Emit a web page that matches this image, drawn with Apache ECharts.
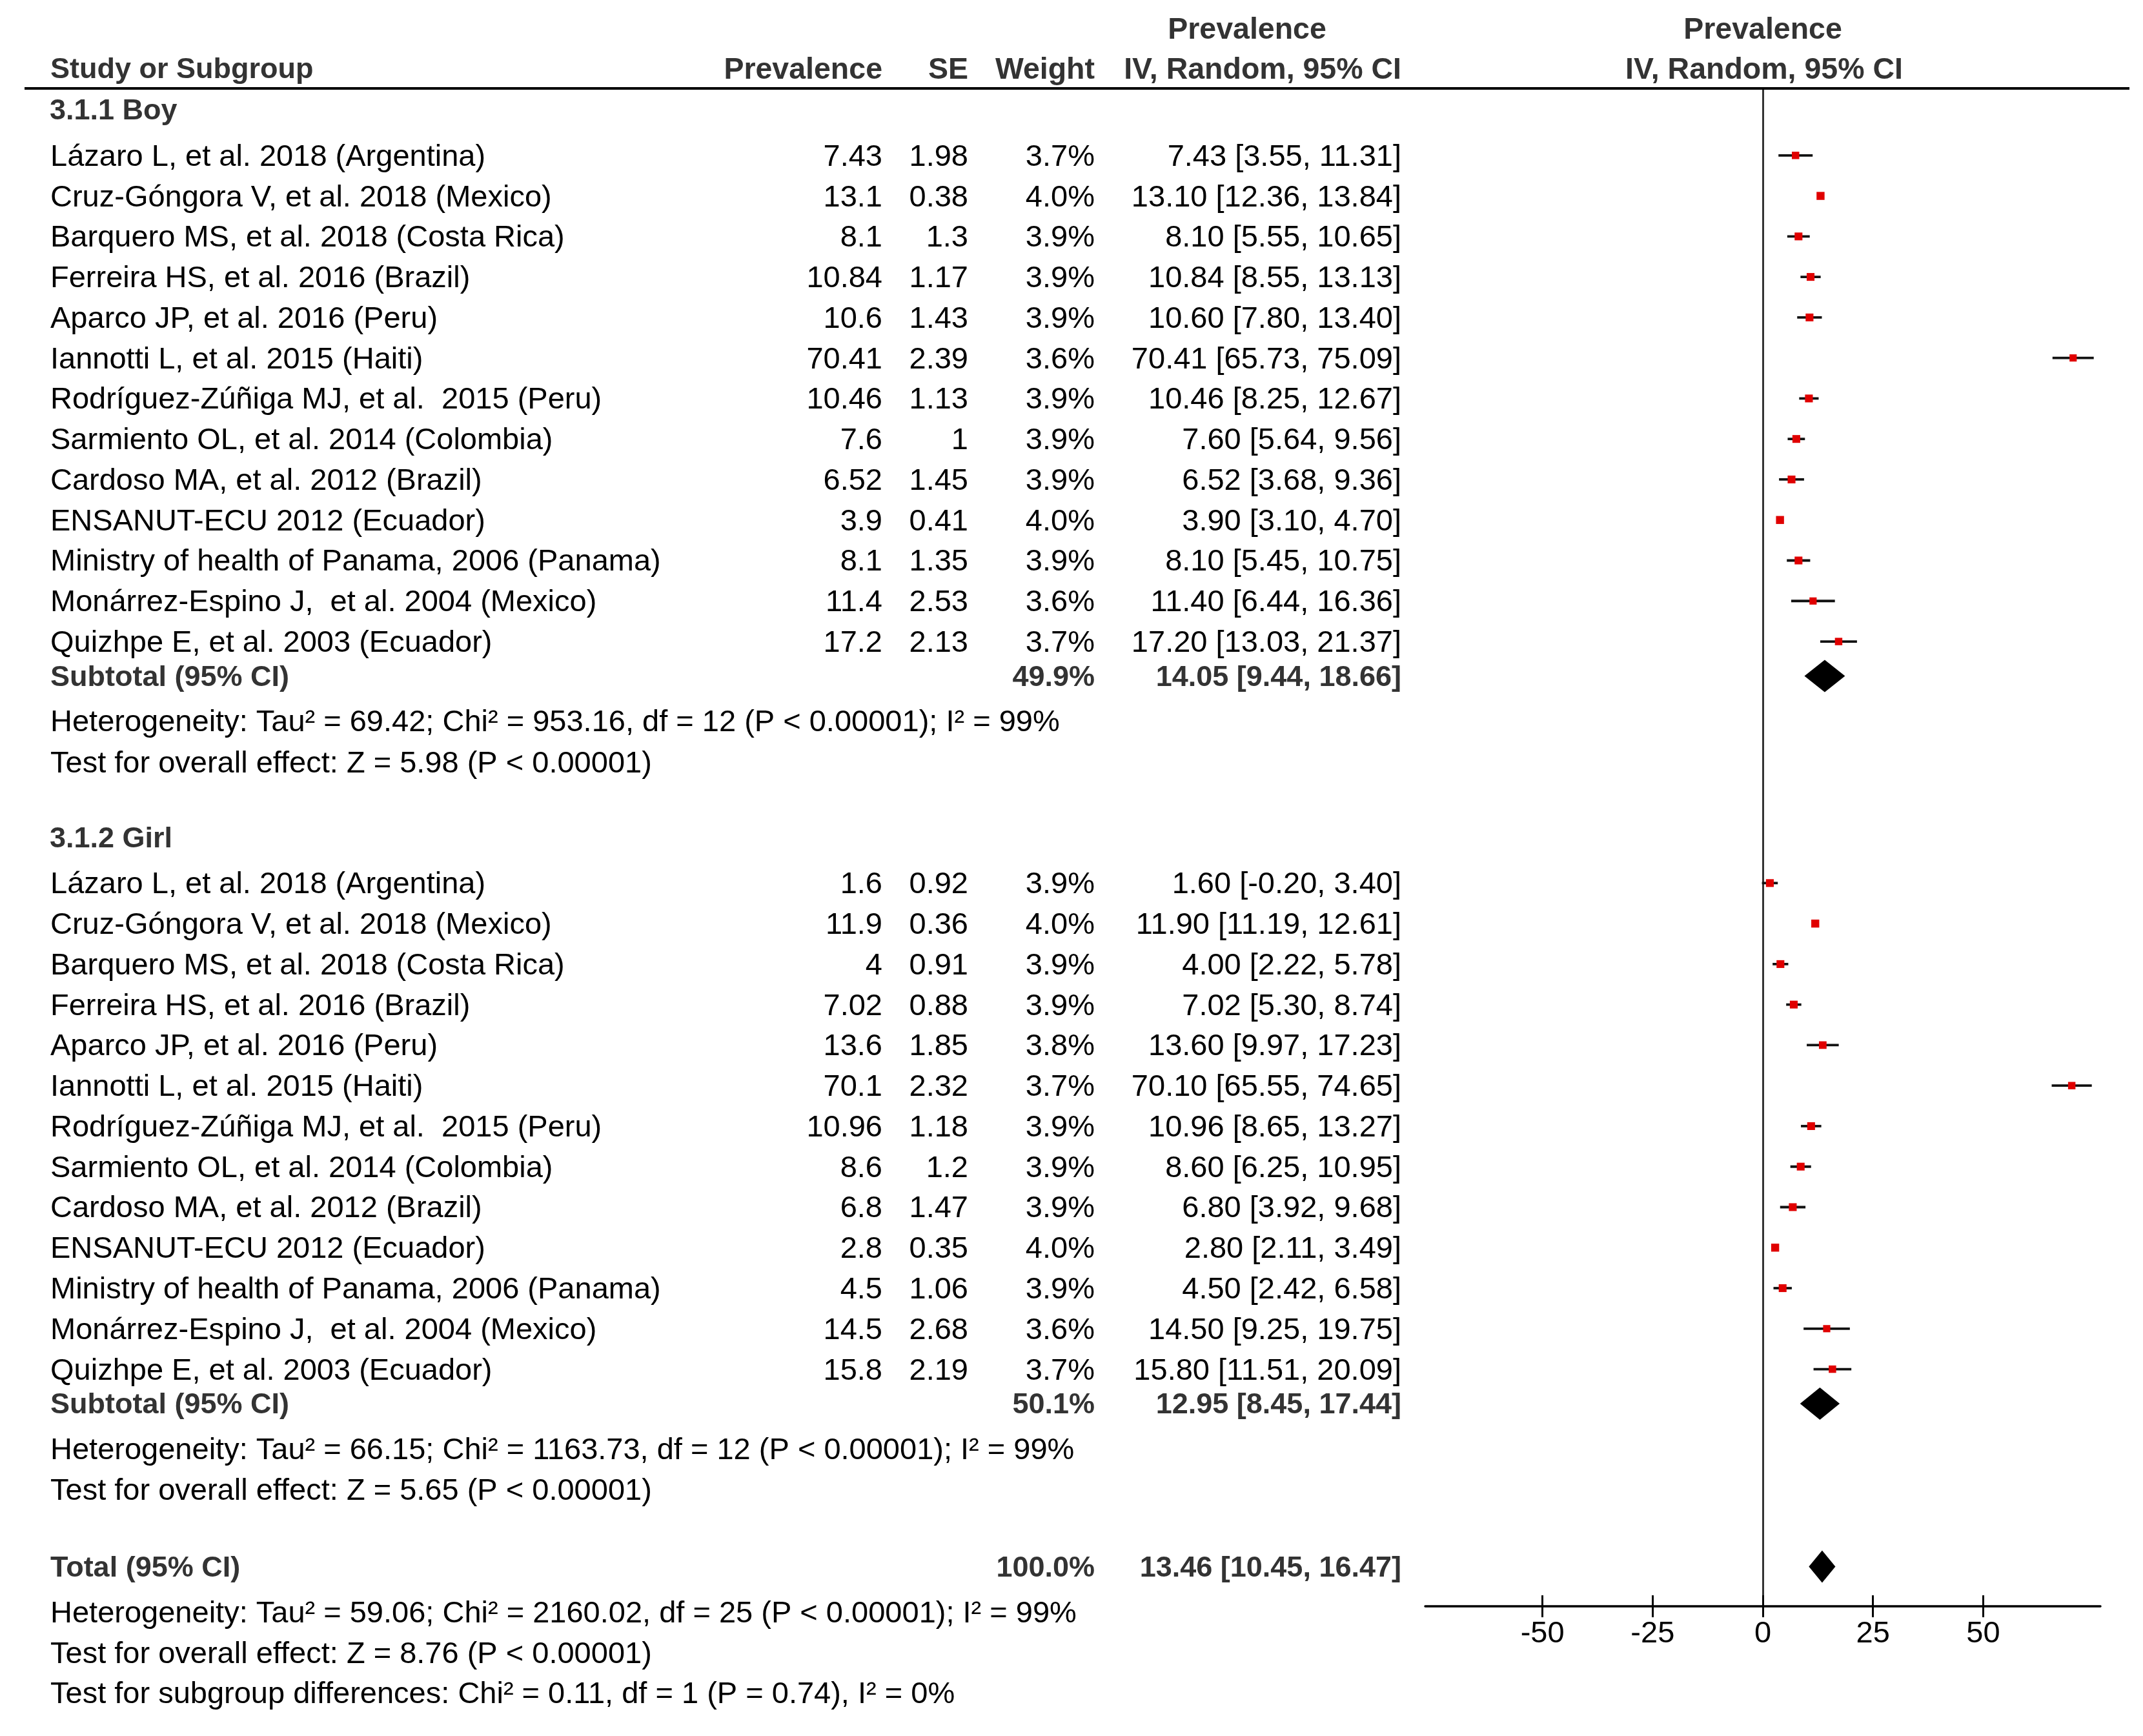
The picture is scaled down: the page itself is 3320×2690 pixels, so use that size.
<!DOCTYPE html>
<html><head><meta charset="utf-8">
<script src="https://cdn.jsdelivr.net/npm/echarts@6/dist/echarts.min.js"></script>
<style>html,body{margin:0;padding:0;background:#fff}#c{width:3320px;height:2690px}</style>
</head><body><div id="c"></div>
<script>
// ---------------- data ----------------
const studyNames = [
  'Lázaro L, et al. 2018 (Argentina)',
  'Cruz-Góngora V, et al. 2018 (Mexico)',
  'Barquero MS, et al. 2018 (Costa Rica)',
  'Ferreira HS, et al. 2016 (Brazil)',
  'Aparco JP, et al. 2016 (Peru)',
  'Iannotti L, et al. 2015 (Haiti)',
  'Rodríguez-Zúñiga MJ, et al.  2015 (Peru)',
  'Sarmiento OL, et al. 2014 (Colombia)',
  'Cardoso MA, et al. 2012 (Brazil)',
  'ENSANUT-ECU 2012 (Ecuador)',
  'Ministry of health of Panama, 2006 (Panama)',
  'Monárrez-Espino J,  et al. 2004 (Mexico)',
  'Quizhpe E, et al. 2003 (Ecuador)'
];
const boyPrev   = [7.43, 13.1, 8.1, 10.84, 10.6, 70.41, 10.46, 7.6, 6.52, 3.9, 8.1, 11.4, 17.2];
const boySE     = [1.98, 0.38, 1.3, 1.17, 1.43, 2.39, 1.13, 1, 1.45, 0.41, 1.35, 2.53, 2.13];
const boyWeight = [3.7, 4.0, 3.9, 3.9, 3.9, 3.6, 3.9, 3.9, 3.9, 4.0, 3.9, 3.6, 3.7];
const boyLower  = [3.55, 12.36, 5.55, 8.55, 7.80, 65.73, 8.25, 5.64, 3.68, 3.10, 5.45, 6.44, 13.03];
const boyUpper  = [11.31, 13.84, 10.65, 13.13, 13.40, 75.09, 12.67, 9.56, 9.36, 4.70, 10.75, 16.36, 21.37];

const girlPrev   = [1.6, 11.9, 4, 7.02, 13.6, 70.1, 10.96, 8.6, 6.8, 2.8, 4.5, 14.5, 15.8];
const girlSE     = [0.92, 0.36, 0.91, 0.88, 1.85, 2.32, 1.18, 1.2, 1.47, 0.35, 1.06, 2.68, 2.19];
const girlWeight = [3.9, 4.0, 3.9, 3.9, 3.8, 3.7, 3.9, 3.9, 3.9, 4.0, 3.9, 3.6, 3.7];
const girlLower  = [-0.20, 11.19, 2.22, 5.30, 9.97, 65.55, 8.65, 6.25, 3.92, 2.11, 2.42, 9.25, 11.51];
const girlUpper  = [3.40, 12.61, 5.78, 8.74, 17.23, 74.65, 13.27, 10.95, 9.68, 3.49, 6.58, 19.75, 20.09];

const pooledLabels = ['Subtotal (95% CI)', 'Subtotal (95% CI)', 'Total (95% CI)'];
const pooledWeight = [49.9, 50.1, 100.0];
const pooledEst    = [14.05, 12.95, 13.46];
const pooledLower  = [9.44, 8.45, 10.45];
const pooledUpper  = [18.66, 17.44, 16.47];

const groupTitles = ['3.1.1 Boy', '3.1.2 Girl'];
const groupNotes = [
  ['Heterogeneity: Tau² = 69.42; Chi² = 953.16, df = 12 (P < 0.00001); I² = 99%',
   'Test for overall effect: Z = 5.98 (P < 0.00001)'],
  ['Heterogeneity: Tau² = 66.15; Chi² = 1163.73, df = 12 (P < 0.00001); I² = 99%',
   'Test for overall effect: Z = 5.65 (P < 0.00001)']
];
const totalNotes = [
  'Heterogeneity: Tau² = 59.06; Chi² = 2160.02, df = 25 (P < 0.00001); I² = 99%',
  'Test for overall effect: Z = 8.76 (P < 0.00001)',
  'Test for subgroup differences: Chi² = 0.11, df = 1 (P = 0.74), I² = 0%'
];
const xTicks = [-50, -25, 0, 25, 50];

// ---------------- layout ----------------
const W = 3320, H = 2690;
const GRID_TOP = 137, GRID_BOTTOM_Y = 2489;
const GRID_LEFT = 2208, GRID_RIGHT_X = 3254;
const FS = 47, FS_BOLD = 45, FS_HEAD = 46.5;
const TXT_DY = 3;
const FONT = '"Liberation Sans", Arial, sans-serif';
const NAME_X = 78, PREV_R = 1367, SE_R = 1500, W_R = 1696, CI_R = 2171;
const ROW = 62.77;

const rows = [];
let cur = GRID_TOP;
function add(r, gap) { cur += gap; r.y = cur - GRID_TOP; rows.push(r); }
const groups = [
  {prev: boyPrev, se: boySE, w: boyWeight, lo: boyLower, hi: boyUpper},
  {prev: girlPrev, se: girlSE, w: girlWeight, lo: girlLower, hi: girlUpper}
];
groups.forEach(function (g, gi) {
  add({type: 'header', text: groupTitles[gi]}, gi === 0 ? 33 : 116.7);
  studyNames.forEach(function (n, i) {
    add({type: 'study', name: n, prev: g.prev[i], se: g.se[i], w: g.w[i], lo: g.lo[i], hi: g.hi[i]}, i === 0 ? 70.8 : ROW);
  });
  add({type: 'pooled', name: pooledLabels[gi], w: pooledWeight[gi], est: pooledEst[gi], lo: pooledLower[gi], hi: pooledUpper[gi]}, 53.5);
  add({type: 'note', text: groupNotes[gi][0]}, 70);
  add({type: 'note', text: groupNotes[gi][1]}, 63.3);
});
add({type: 'pooled', name: pooledLabels[2], w: pooledWeight[2], est: pooledEst[2], lo: pooledLower[2], hi: pooledUpper[2]}, 119.2);
add({type: 'note', text: totalNotes[0]}, 70.5);
add({type: 'note', text: totalNotes[1]}, 63);
add({type: 'note', text: totalNotes[2]}, 62);

function fmt(v) { return v.toFixed(2); }
function ciText(e, l, h) { return fmt(e) + ' [' + fmt(l) + ', ' + fmt(h) + ']'; }

function txt(str, x, y, align, bold, size) {
  const fs = size || (bold ? FS_BOLD : FS);
  return {
    type: 'text', x: x, y: y + TXT_DY, silent: true,
    style: {
      text: str, font: (bold ? 'bold ' : '') + fs + 'px ' + FONT,
      fill: bold ? '#333' : '#000',
      align: align, textAlign: align, verticalAlign: 'middle', textVerticalAlign: 'middle'
    }
  };
}

const textData = rows.map(function (r, i) { return [0, r.y, i]; });
const studyRows = rows.filter(function (r) { return r.type === 'study'; });
const pooledRows = rows.filter(function (r) { return r.type === 'pooled'; });

const chart = echarts.init(document.getElementById('c'), null, {renderer: 'canvas', width: W, height: H});

const headerGraphics = [
  {type: 'line', shape: {x1: 38, y1: GRID_TOP, x2: 3299, y2: GRID_TOP}, style: {stroke: '#000', lineWidth: 4}, z: 10},
  txt('Prevalence', 1932, 44, 'center', true, FS_HEAD),
  txt('Prevalence', 2731, 44, 'center', true, FS_HEAD),
  txt('Study or Subgroup', NAME_X, 106, 'left', true),
  txt('Prevalence', PREV_R, 106, 'right', true, FS_HEAD),
  txt('SE', SE_R, 106, 'right', true, FS_HEAD),
  txt('Weight', W_R, 106, 'right', true, FS_HEAD),
  txt('IV, Random, 95% CI', CI_R, 106, 'right', true, FS_HEAD),
  txt('IV, Random, 95% CI', 2733, 106, 'center', true, FS_HEAD)
];

const option = {
  animation: false,
  backgroundColor: '#fff',
  graphic: {elements: headerGraphics},
  grid: {left: GRID_LEFT, right: W - GRID_RIGHT_X, top: GRID_TOP, bottom: H - GRID_BOTTOM_Y, containLabel: false},
  xAxis: [
    {
      type: 'value', min: -76.6, max: 76.6, position: 'bottom',
      axisLine: {show: true, onZero: false, lineStyle: {color: '#000', width: 3.5}},
      axisTick: {show: true, inside: false, length: 17, customValues: xTicks, lineStyle: {color: '#000', width: 3}},
      axisLabel: {show: true, customValues: xTicks, margin: 20, color: '#000', fontSize: FS, fontFamily: FONT},
      splitLine: {show: false}
    },
    {
      type: 'value', min: -76.6, max: 76.6, position: 'bottom', offset: 0,
      axisLine: {show: false, onZero: false},
      axisTick: {show: true, inside: true, length: 17, customValues: xTicks, lineStyle: {color: '#000', width: 3}},
      axisLabel: {show: false},
      splitLine: {show: false}
    }
  ],
  yAxis: {
    type: 'value', inverse: true, min: 0, max: GRID_BOTTOM_Y - GRID_TOP,
    axisLine: {show: true, onZero: true, lineStyle: {color: '#333', width: 3}},
    axisTick: {show: false}, axisLabel: {show: false}, splitLine: {show: false}
  },
  series: [
    {
      name: 'ci', type: 'custom', z: 2, clip: false,
      data: studyRows.map(function (r) { return [r.lo, r.hi, r.y]; }),
      renderItem: function (params, api) {
        const a = api.coord([api.value(0), api.value(2)]);
        const b = api.coord([api.value(1), api.value(2)]);
        return {type: 'line', shape: {x1: a[0], y1: a[1], x2: b[0], y2: b[1]}, style: {stroke: '#111', lineWidth: 3.8}};
      }
    },
    {
      name: 'estimate', type: 'scatter', z: 3, symbol: 'rect',
      data: studyRows.map(function (r) { return [r.prev, r.y, r.w]; }),
      symbolSize: function (v) { return [v[2] * 3.1, v[2] * 3.1]; },
      itemStyle: {color: '#e00000', opacity: 1},
      emphasis: {disabled: true}
    },
    {
      name: 'pooled', type: 'custom', z: 3, clip: false,
      data: pooledRows.map(function (r) { return [r.lo, r.est, r.hi, r.y]; }),
      renderItem: function (params, api) {
        const y = api.value(3);
        const l = api.coord([api.value(0), y]);
        const e = api.coord([api.value(1), y]);
        const h = api.coord([api.value(2), y]);
        const hh = 25;
        return {type: 'polygon', shape: {points: [[l[0], l[1]], [e[0], e[1] - hh], [h[0], h[1]], [e[0], e[1] + hh]]}, style: {fill: '#000'}};
      }
    },
    {
      name: 'table', type: 'custom', z: 5, clip: false, silent: true,
      data: textData,
      renderItem: function (params, api) {
        const r = rows[api.value(2)];
        const y = api.coord([0, api.value(1)])[1];
        const ch = [];
        if (r.type === 'header') {
          ch.push(txt(r.text, 77, y, 'left', true));
        } else if (r.type === 'study') {
          ch.push(txt(r.name, NAME_X, y, 'left', false));
          ch.push(txt(String(r.prev), PREV_R, y, 'right', false));
          ch.push(txt(String(r.se), SE_R, y, 'right', false));
          ch.push(txt(r.w.toFixed(1) + '%', W_R, y, 'right', false));
          ch.push(txt(ciText(r.prev, r.lo, r.hi), CI_R, y, 'right', false));
        } else if (r.type === 'pooled') {
          ch.push(txt(r.name, NAME_X, y, 'left', true));
          ch.push(txt(r.w.toFixed(1) + '%', W_R, y, 'right', true));
          ch.push(txt(ciText(r.est, r.lo, r.hi), CI_R, y, 'right', true));
        } else {
          ch.push(txt(r.text, NAME_X, y, 'left', false));
        }
        return {type: 'group', children: ch};
      }
    }
  ]
};
chart.setOption(option);
</script></body></html>
